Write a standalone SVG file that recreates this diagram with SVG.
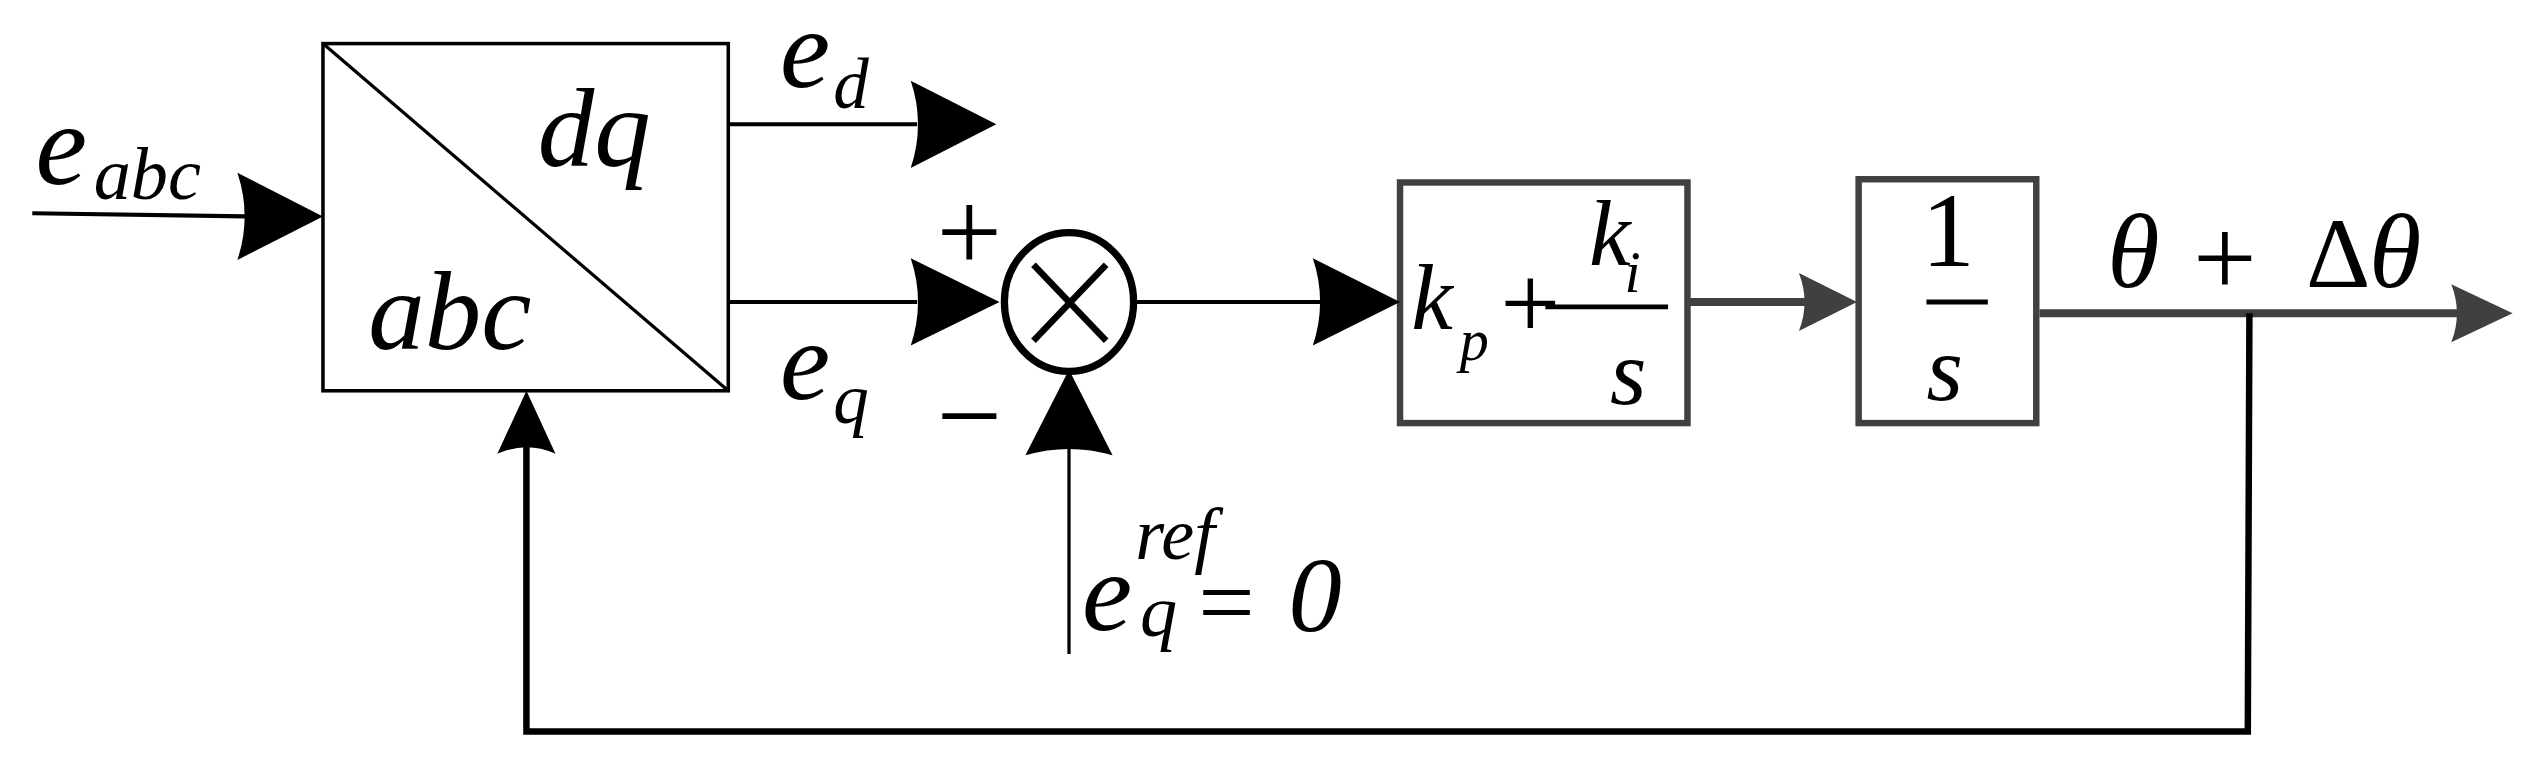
<svg xmlns="http://www.w3.org/2000/svg" width="2532" height="760" viewBox="0 0 2532 760">
<style>
.t{font-style:italic}
.k{stroke:#000;fill:none}
.g{stroke:#404040;fill:none}
.ak{fill:#000}
.ag{fill:#404040}
</style>
<rect width="2532" height="760" fill="#fff"/>
<g transform="scale(1.6148)" font-family="Liberation Serif, Times New Roman, serif" fill="#000">
<g id="transform">
<rect x="200" y="27" width="251" height="215" class="k" stroke-width="2.2"/>
<line x1="200" y1="27" x2="451" y2="242" class="k" stroke-width="2"/>
<text class="t" x="333" y="103" font-size="70">dq</text>
<text class="t" x="228" y="216" font-size="70">abc</text>
</g>
<g id="sum">
<ellipse cx="662" cy="187" rx="40" ry="43" class="k" stroke-width="4.5"/>
<line x1="640" y1="164" x2="685" y2="211" class="k" stroke-width="4"/>
<line x1="685" y1="164" x2="640" y2="211" class="k" stroke-width="4"/>
</g>
<g id="pi">
<rect x="867" y="113" width="178" height="149" class="g" stroke-width="4"/>
<text class="t" x="874" y="204" font-size="58">k</text>
<text class="t" x="904" y="223" font-size="36">p</text>
<text x="929" y="210" font-size="66">+</text>
<line x1="957" y1="190" x2="1033" y2="190" class="k" stroke-width="3"/>
<text class="t" x="984" y="164" font-size="58">k</text>
<text class="t" x="1006" y="181" font-size="36">i</text>
<text class="t" x="997" y="250" font-size="58">s</text>
</g>
<g id="integrator">
<rect x="1151" y="111" width="110" height="151" class="g" stroke-width="4"/>
<text x="1190" y="165" font-size="66">1</text>
<line x1="1193" y1="187" x2="1231" y2="187" class="k" stroke-width="3"/>
<text class="t" x="1193" y="248" font-size="58">s</text>
</g>
<g id="connectors">
<line x1="20" y1="132" x2="152" y2="134" class="k" stroke-width="2.5"/>
<path class="ak" d="M200,134 L147,107 Q156,134 147,161 Z"/>
<line x1="451" y1="77" x2="568" y2="77" class="k" stroke-width="2.5"/>
<path class="ak" d="M617,77 L564,50 Q573,77 564,104 Z"/>
<line x1="451" y1="187" x2="568" y2="187" class="k" stroke-width="2.5"/>
<path class="ak" d="M619,187 L564,160 Q573,187 564,214 Z"/>
<line x1="702" y1="187" x2="818" y2="187" class="k" stroke-width="2.5"/>
<path class="ak" d="M867,187 L813,160 Q822,187 813,214 Z"/>
<line x1="662" y1="405" x2="662" y2="275" class="k" stroke-width="2"/>
<path class="ak" d="M662,229 L635,282 Q662,274 689,282 Z"/>
<line x1="1045" y1="187" x2="1120" y2="187" class="g" stroke-width="5"/>
<path class="ag" d="M1150,187 L1114,169 Q1121,187 1114,205 Z"/>
<line x1="1263" y1="194" x2="1522" y2="194" class="g" stroke-width="5"/>
<path class="ag" d="M1556,194 L1518,176 Q1525,194 1518,212 Z"/>
<polyline points="1393,194 1392,453 326,453 326,276" class="k" stroke-width="4"/>
<path class="ak" d="M326,242 L308,281 Q326,273 344,281 Z"/>
</g>
<g id="labels">
<text class="t" x="22" y="114" font-size="72">e</text>
<text class="t" x="58" y="123" font-size="46">abc</text>
<text class="t" x="483" y="54" font-size="70">e</text>
<text class="t" x="516" y="67" font-size="44">d</text>
<text class="t" x="483" y="247" font-size="70">e</text>
<text class="t" x="516" y="262" font-size="44">q</text>
<text x="580" y="168" font-size="72">+</text>
<text x="580" y="282" font-size="72">−</text>
<text class="t" x="670" y="390" font-size="70">e</text>
<text class="t" x="706" y="394" font-size="46">q</text>
<text class="t" x="703" y="346" font-size="46">ref</text>
<text x="742" y="394" font-size="62">=</text>
<text class="t" x="798" y="391" font-size="66">0</text>
<text class="t" x="1305" y="178" font-size="66">θ</text>
<text x="1358" y="183" font-size="70">+</text>
<text x="1428" y="178" font-size="62">Δ</text>
<text class="t" x="1467" y="178" font-size="66">θ</text>
</g>
</g>
</svg>
